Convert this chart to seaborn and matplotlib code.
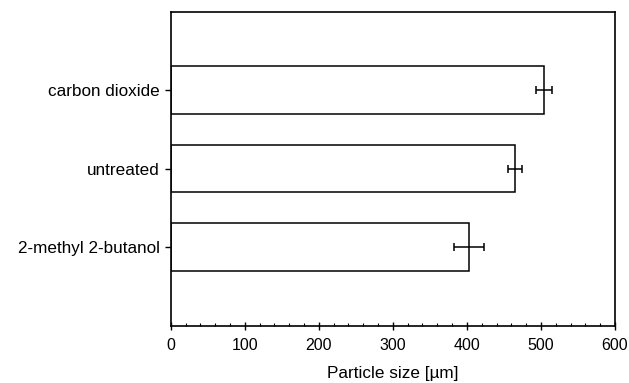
import matplotlib
matplotlib.use("Agg")
import matplotlib.pyplot as plt
import seaborn as sns
import pandas as pd
from matplotlib.ticker import MultipleLocator

categories = ["carbon dioxide", "untreated", "2-methyl 2-butanol"]
sizes = [504, 465, 403]
errors = [11, 10, 20]

df = pd.DataFrame({"treatment": categories, "size": sizes})

sns.set_theme(style="white")
plt.rcParams["font.family"] = ["Liberation Sans", "DejaVu Sans"]
plt.rcParams["text.color"] = "black"
plt.rcParams["axes.labelcolor"] = "black"
plt.rcParams["xtick.color"] = "black"
plt.rcParams["ytick.color"] = "black"

fig = plt.figure(figsize=(6.29, 3.83), dpi=100)
ax = fig.add_axes([0.2714, 0.1501, 0.7064, 0.8198])

sns.barplot(data=df, x="size", y="treatment", order=categories, orient="h",
            color="white", edgecolor="black", linewidth=1.1, width=0.61,
            errorbar=None, ax=ax)
ax.errorbar(sizes, range(len(categories)), xerr=errors, fmt="none",
            ecolor="black", elinewidth=1.1, capsize=3.2, capthick=1.1)

ax.set_xlim(0, 600)
ax.set_ylim(3, -1)
ax.xaxis.set_major_locator(MultipleLocator(100))
ax.xaxis.set_minor_locator(MultipleLocator(20))
ax.tick_params(axis="x", which="major", direction="inout", length=6, width=1,
               labelsize=11.5, colors="black", pad=6, bottom=True)
ax.tick_params(axis="x", which="minor", direction="in", length=2.5, width=0.8,
               color="black", bottom=True)
ax.tick_params(axis="y", which="major", direction="out", length=4, width=1,
               labelsize=12.3, colors="black", left=True, pad=4)
for s in ax.spines.values():
    s.set_visible(True)
    s.set_color("black")
    s.set_linewidth(1.2)
ax.set_ylabel("")
ax.set_xlabel("Particle size [µm]", fontsize=12.3, labelpad=9, color="black")

fig.savefig("out.png", dpi=100)
